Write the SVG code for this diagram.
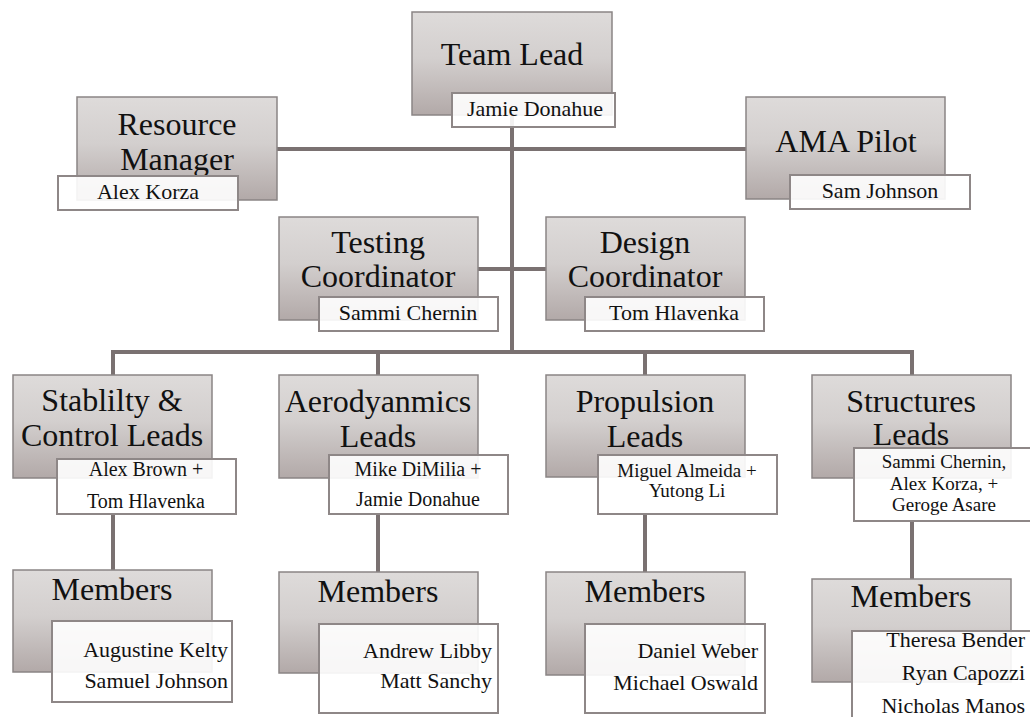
<svg xmlns="http://www.w3.org/2000/svg" width="1030" height="717" viewBox="0 0 1030 717">
  <defs>
    <linearGradient id="roleFill" x1="0" y1="0" x2="0" y2="1">
      <stop offset="0" stop-color="#dedbda"/>
      <stop offset="0.45" stop-color="#d3cfce"/>
      <stop offset="1" stop-color="#b2a9a8"/>
    </linearGradient>
    <style>
      .role { fill: url(#roleFill); stroke: #8a8585; stroke-width: 1.5; }
      .name { fill: #ffffff; fill-opacity: 0.9; stroke: #8e8787; stroke-width: 2; }
      .title { font-family: "Liberation Serif", "Times New Roman", serif; font-size: 32px; fill: #111111; text-anchor: middle; }
      .person { font-family: "Liberation Serif", "Times New Roman", serif; font-size: 22px; fill: #111111; text-anchor: middle; }
      .lead { font-size: 20px; }
      .small { font-size: 19px; }
      .right { text-anchor: end; }
      .link { stroke: #7a7171; stroke-width: 4; fill: none; }
    </style>
  </defs>
  <rect width="1030" height="717" fill="#ffffff"/>

  <!-- connectors -->
  <g id="connectors">
    <path class="link" d="M512 115 V352"/>
    <path class="link" d="M277 149 H747"/>
    <path class="link" d="M478 269 H547"/>
    <path class="link" d="M111 352 H914"/>
    <path class="link" d="M113 350 V375 M378 350 V375 M645 350 V375 M912 350 V375"/>
    <path class="link" d="M113 514 V570 M378 514 V572 M645 514 V572 M912 521 V579"/>
  </g>

  <g id="team-lead">
    <rect class="role" x="412" y="12" width="200" height="103"/>
    <text class="title" x="512" y="65">Team Lead</text>
    <rect class="name" x="452" y="93" width="163" height="34"/>
    <text class="person" x="535" y="116">Jamie Donahue</text>
  </g>

  <g id="resource-manager">
    <rect class="role" x="77" y="97" width="200" height="103"/>
    <text class="title" x="177" y="135">Resource</text>
    <text class="title" x="177" y="170">Manager</text>
    <rect class="name" x="58" y="176" width="180" height="34"/>
    <text class="person" x="148" y="199">Alex Korza</text>
  </g>

  <g id="ama-pilot">
    <rect class="role" x="746" y="97" width="199" height="102"/>
    <text class="title" x="846" y="152">AMA Pilot</text>
    <rect class="name" x="790" y="175" width="180" height="34"/>
    <text class="person" x="880" y="198">Sam Johnson</text>
  </g>

  <g id="testing-coordinator">
    <rect class="role" x="279" y="217" width="199" height="103"/>
    <text class="title" x="378" y="253">Testing</text>
    <text class="title" x="378" y="287">Coordinator</text>
    <rect class="name" x="319" y="297" width="179" height="34"/>
    <text class="person" x="408" y="320">Sammi Chernin</text>
  </g>

  <g id="design-coordinator">
    <rect class="role" x="546" y="217" width="199" height="103"/>
    <text class="title" x="645" y="253">Design</text>
    <text class="title" x="645" y="287">Coordinator</text>
    <rect class="name" x="585" y="297" width="179" height="34"/>
    <text class="person" x="674" y="320">Tom Hlavenka</text>
  </g>

  <g id="stability-leads">
    <rect class="role" x="13" y="375" width="199" height="103"/>
    <text class="title" x="112" y="411">Stablilty &amp;</text>
    <text class="title" x="112" y="446">Control Leads</text>
    <rect class="name" x="57" y="459" width="179" height="55"/>
    <text class="person lead" x="146" y="476">Alex Brown +</text>
    <text class="person lead" x="146" y="508">Tom Hlavenka</text>
  </g>

  <g id="aerodynamics-leads">
    <rect class="role" x="279" y="375" width="199" height="103"/>
    <text class="title" x="378" y="412">Aerodyanmics</text>
    <text class="title" x="378" y="447">Leads</text>
    <rect class="name" x="329" y="455" width="179" height="59"/>
    <text class="person lead" x="418" y="476">Mike DiMilia +</text>
    <text class="person lead" x="418" y="506">Jamie Donahue</text>
  </g>

  <g id="propulsion-leads">
    <rect class="role" x="546" y="375" width="199" height="102"/>
    <text class="title" x="645" y="412">Propulsion</text>
    <text class="title" x="645" y="447">Leads</text>
    <rect class="name" x="598" y="455" width="179" height="59"/>
    <text class="person small" x="687" y="477">Miguel Almeida +</text>
    <text class="person small" x="687" y="497">Yutong Li</text>
  </g>

  <g id="structures-leads">
    <rect class="role" x="812" y="375" width="199" height="103"/>
    <text class="title" x="911" y="412">Structures</text>
    <text class="title" x="911" y="445">Leads</text>
    <rect class="name" x="854" y="448" width="178" height="73"/>
    <text class="person small" x="944" y="468">Sammi Chernin,</text>
    <text class="person small" x="944" y="490">Alex Korza, +</text>
    <text class="person small" x="944" y="511">Geroge Asare</text>
  </g>

  <g id="stability-members">
    <rect class="role" x="13" y="570" width="199" height="102"/>
    <text class="title" x="112" y="600">Members</text>
    <rect class="name" x="52" y="621" width="180" height="81"/>
    <text class="person right" x="228" y="657">Augustine Kelty</text>
    <text class="person right" x="228" y="688">Samuel Johnson</text>
  </g>

  <g id="aerodynamics-members">
    <rect class="role" x="279" y="572" width="199" height="101"/>
    <text class="title" x="378" y="602">Members</text>
    <rect class="name" x="319" y="624" width="179" height="89"/>
    <text class="person right" x="492" y="658">Andrew Libby</text>
    <text class="person right" x="492" y="688">Matt Sanchy</text>
  </g>

  <g id="propulsion-members">
    <rect class="role" x="546" y="572" width="199" height="103"/>
    <text class="title" x="645" y="602">Members</text>
    <rect class="name" x="585" y="624" width="180" height="89"/>
    <text class="person right" x="758" y="658">Daniel Weber</text>
    <text class="person right" x="758" y="690">Michael Oswald</text>
  </g>

  <g id="structures-members">
    <rect class="role" x="812" y="579" width="199" height="103"/>
    <text class="title" x="911" y="607">Members</text>
    <rect class="name" x="852" y="631" width="180" height="90"/>
    <text class="person right" x="1025" y="647">Theresa Bender</text>
    <text class="person right" x="1025" y="680">Ryan Capozzi</text>
    <text class="person right" x="1025" y="713">Nicholas Manos</text>
  </g>
</svg>
